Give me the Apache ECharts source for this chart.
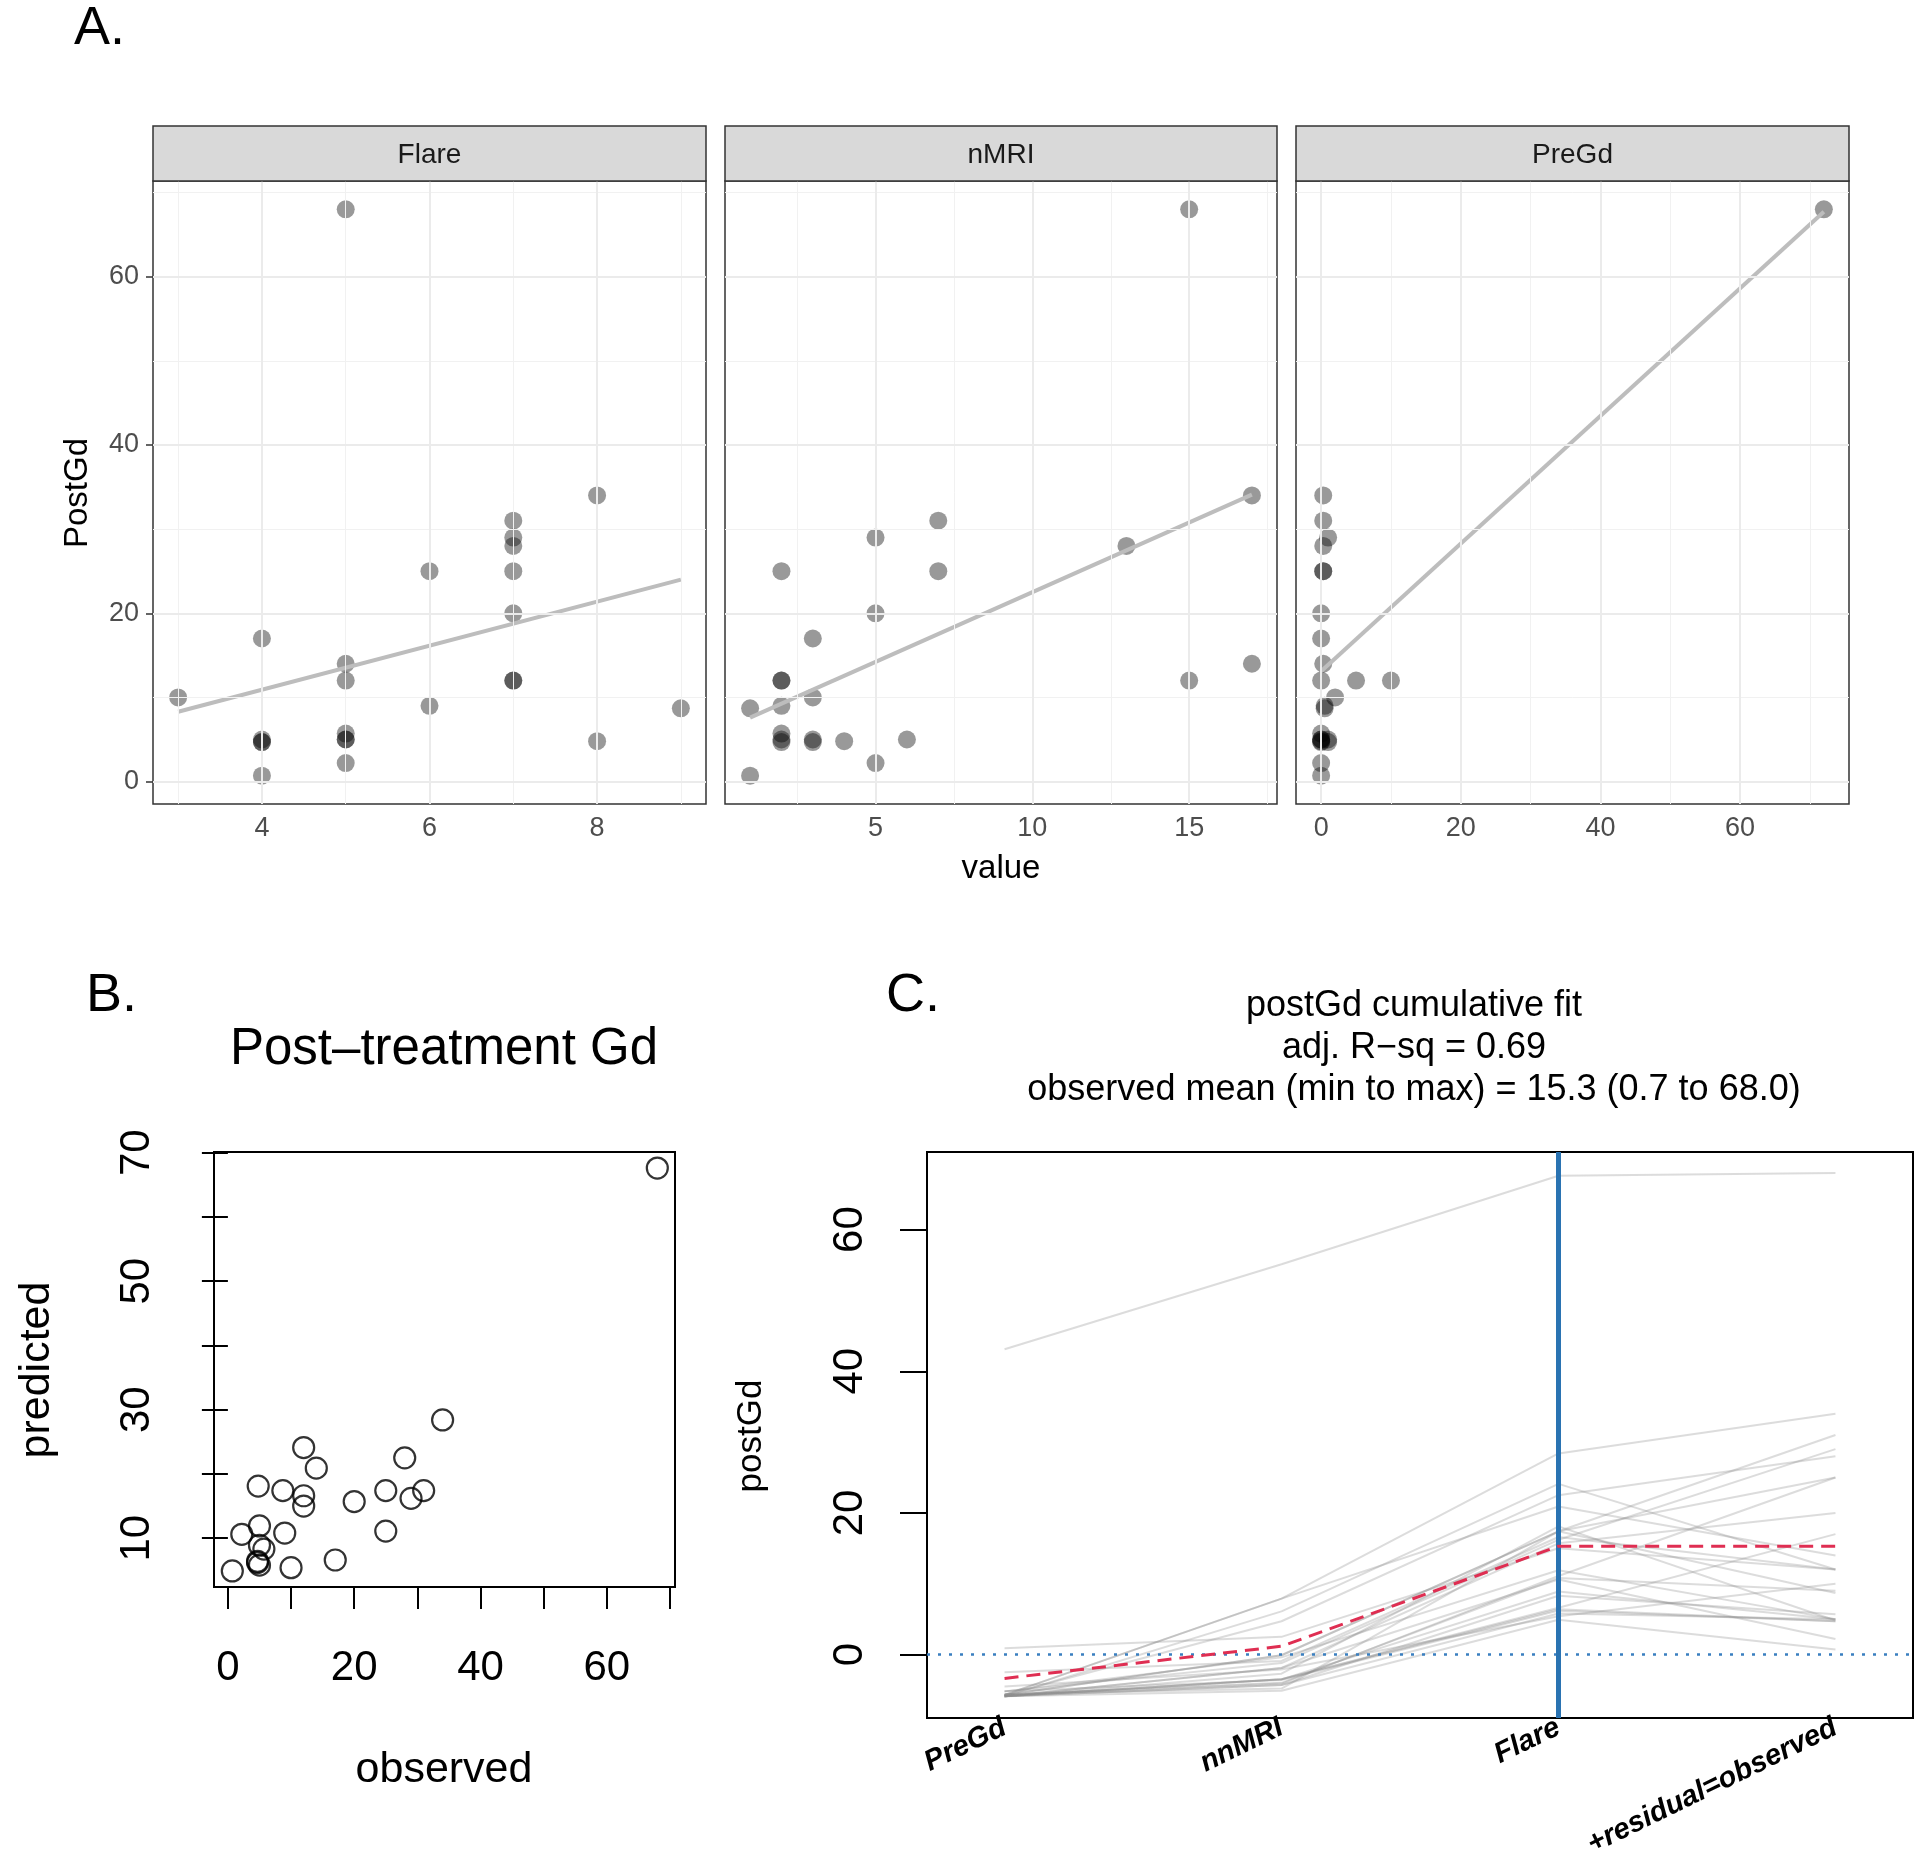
<!DOCTYPE html>
<html><head><meta charset="utf-8">
<script src="https://cdn.jsdelivr.net/npm/echarts@6/dist/echarts.min.js"></script>
<style>html,body{margin:0;padding:0;background:#fff}#c{width:1920px;height:1859px}</style>
</head><body><div id="c"></div>
<script>
// ---------- data ----------
const postGd = [68, 34, 31, 29, 28, 25, 25, 20, 17, 14, 12, 12, 12, 10, 9, 8.7, 5.7, 4.8, 5, 5, 4.7, 5, 4.7, 2.2, 0.7];
const flare  = [5, 8, 7, 7, 7, 7, 6, 7, 4, 5, 7, 7, 5, 3, 6, 9, 5, 8, 5, 5, 4, 4, 4, 5, 4];
const nMRI   = [15, 17, 7, 5, 13, 7, 2, 5, 3, 17, 15, 2, 2, 3, 2, 1, 2, 4, 6, 3, 3, 2, 2, 5, 1];
const preGd  = [72, 0.3, 0.3, 1, 0.3, 0.3, 0.3, 0, 0, 0.3, 0, 5, 10, 2, 0.5, 0.5, 0, 0, 1, 0, 0, 0, 1, 0, 0];
const fitFlare = [[3, 8.3], [9, 24.0]];
const fitNMRI  = [[1, 7.6], [17, 34.1]];
const fitPreGd = [[0, 13.1], [72, 67.7]];
const facetNames = ['Flare', 'nMRI', 'PreGd'];

const predicted = [67.6, 28.4, 17.4, 16.2, 22.5, 17.4, 11.1, 15.7, 6.6, 20.9, 24.1, 16.6, 15.0, 5.4, 10.8, 17.4, 8.3, 18.1, 11.9, 8.9, 6.4, 5.8, 6.2, 10.6, 4.9];

const cumPreGd = [43.1, -5.7, -5.7, -5.2, -5.7, -5.7, -5.7, -5.9, -5.9, -5.7, -5.9, -2.5, 0.9, -4.5, -5.6, -5.6, -5.9, -5.9, -5.2, -5.9, -5.9, -5.9, -5.2, -5.9, -5.9];
const cumNnMRI = [55.1, 7.9, -0.1, -1.2, 4.7, -0.1, -4.1, -1.9, -3.5, 7.9, 6.1, -0.9, 2.5, -2.1, -4.0, -4.8, -4.3, -2.7, -0.4, -3.5, -3.5, -4.3, -3.6, -1.9, -5.1];
const cumFlare = [67.6, 28.4, 17.4, 16.2, 22.5, 17.4, 11.1, 15.7, 6.6, 20.9, 24.1, 16.6, 15.0, 5.4, 10.8, 17.4, 8.3, 18.1, 11.9, 8.9, 6.4, 5.8, 6.2, 10.6, 4.9];
const cumObserved = [68, 34, 31, 29, 28, 25, 25, 20, 17, 14, 12, 12, 12, 10, 9, 8.7, 5.7, 4.8, 5, 5, 4.7, 5, 4.7, 2.2, 0.7];
const stepLabels = ['PreGd', 'nnMRI', 'Flare', '+residual=observed'];
const meanPath = [-3.37, 1.17, 15.3, 15.3];

// ---------- ticks ----------
const aYTicks = [0, 20, 40, 60];
const aYMinor = [10, 30, 50, 70];
const flareTicks = [4, 6, 8];
const flareMinor = [3, 5, 7, 9];
const nmriTicks = [5, 10, 15];
const nmriMinor = [2.5, 7.5, 12.5, 17.5];
const pregdTicks = [0, 20, 40, 60];
const pregdMinor = [10, 30, 50, 70];
const bXTicks = [0, 10, 20, 30, 40, 50, 60, 70];
const bXLabels = [0, 20, 40, 60];
const bYTicks = [10, 20, 30, 40, 50, 60, 70];
const bYLabels = [10, 30, 50, 70];
const cYTicks = [0, 20, 40, 60];
const cXTicks = [1, 2, 3, 4];

// ---------- layout ----------
const FONT = '"Liberation Sans", Arial, Helvetica, sans-serif';
const facetX = [[2.7, 9.3], [0.2, 17.8], [-3.6, 75.6]];
const facetMajor = [flareTicks, nmriTicks, pregdTicks];
const facetMinor = [flareMinor, nmriMinor, pregdMinor];
const facetCols = [flare, nMRI, preGd];
const facetFits = [fitFlare, fitNMRI, fitPreGd];
const facetLeft = [153, 725, 1296];
const facetWidth = [553, 552, 553];
const A_TOP = 181, A_H = 623;

const grids = [];
const xAxes = [];
const yAxes = [];
const series = [];
const graphics = [];

function gridLines(idx, xMaj, xMin, yMaj, yMin) {
  const d = [];
  xMin.forEach(v => d.push({xAxis: v, lineStyle: {color: '#f1f1f1', width: 1, type: 'solid'}}));
  yMin.forEach(v => d.push({yAxis: v, lineStyle: {color: '#f1f1f1', width: 1, type: 'solid'}}));
  xMaj.forEach(v => d.push({xAxis: v, lineStyle: {color: '#ebebeb', width: 2, type: 'solid'}}));
  yMaj.forEach(v => d.push({yAxis: v, lineStyle: {color: '#ebebeb', width: 2, type: 'solid'}}));
  return {
    type: 'line', xAxisIndex: idx, yAxisIndex: idx, data: [], z: 1, silent: true,
    markLine: {silent: true, symbol: ['none', 'none'], label: {show: false}, animation: false, data: d}
  };
}

for (let f = 0; f < 3; f++) {
  grids.push({left: facetLeft[f], top: A_TOP, width: facetWidth[f], height: A_H,
    show: true, backgroundColor: '#fff', borderColor: '#333', borderWidth: 1.5,
    containLabel: false, outerBoundsMode: 'none'});
  xAxes.push({gridIndex: f, type: 'value', min: facetX[f][0], max: facetX[f][1],
    axisLine: {show: false}, splitLine: {show: false},
    axisTick: {show: true, customValues: facetMajor[f], length: 7, lineStyle: {color: '#333', width: 1.5}},
    axisLabel: {customValues: facetMajor[f], color: '#4d4d4d', fontSize: 27, fontFamily: FONT, margin: 11}});
  yAxes.push({gridIndex: f, type: 'value', min: -2.665, max: 71.365, show: f === 0,
    axisLine: {show: false}, splitLine: {show: false},
    axisTick: {show: true, customValues: aYTicks, length: 7, lineStyle: {color: '#333', width: 1.5}},
    axisLabel: {customValues: aYTicks, color: '#4d4d4d', fontSize: 27, fontFamily: FONT, margin: 14}});
  series.push(gridLines(f, facetMajor[f], facetMinor[f], aYTicks, aYMinor));
  series.push({type: 'scatter', xAxisIndex: f, yAxisIndex: f, z: 3, symbolSize: 18,
    itemStyle: {color: 'rgba(0,0,0,0.5)'},
    data: facetCols[f].map((x, i) => [x, postGd[i]])});
  series.push({type: 'line', xAxisIndex: f, yAxisIndex: f, z: 4, symbol: 'none',
    lineStyle: {color: '#bdbdbd', width: 4}, data: facetFits[f]});
  graphics.push({type: 'rect', shape: {x: facetLeft[f], y: 126, width: facetWidth[f], height: 55},
    style: {fill: '#d9d9d9', stroke: '#333', lineWidth: 1.5}, z: 10});
  graphics.push({type: 'text', x: facetLeft[f] + facetWidth[f] / 2, y: 155, z: 11,
    style: {text: facetNames[f], fill: '#1a1a1a', font: '28px ' + FONT, textAlign: 'center', textVerticalAlign: 'middle', align: 'center', verticalAlign: 'middle'}});
}

// ---------- panel B ----------
grids.push({left: 214, top: 1152, width: 461, height: 435, show: true, backgroundColor: '#fff',
  borderColor: '#000', borderWidth: 2, containLabel: false, outerBoundsMode: 'none'});
xAxes.push({gridIndex: 3, type: 'value', min: -2.2, max: 70.8,
  axisLine: {show: false}, splitLine: {show: false},
  axisTick: {show: true, customValues: bXTicks, length: 22, lineStyle: {color: '#000', width: 2}},
  axisLabel: {customValues: bXLabels, color: '#000', fontSize: 42, fontFamily: FONT, margin: 60}});
yAxes.push({gridIndex: 3, type: 'value', min: 2.4, max: 70.1,
  axisLine: {show: false}, splitLine: {show: false},
  axisTick: {show: true, customValues: bYTicks, length: 26, lineStyle: {color: '#000', width: 2}},
  axisLabel: {customValues: bYLabels, color: '#000', fontSize: 42, fontFamily: FONT, margin: 56, rotate: 90}});
series.push({type: 'scatter', xAxisIndex: 3, yAxisIndex: 3, z: 3, symbolSize: 21,
  itemStyle: {color: 'rgba(0,0,0,0)', borderColor: '#000', borderWidth: 2.2},
  data: postGd.map((o, i) => [o, predicted[i]])});

// ---------- panel C ----------
grids.push({left: 927, top: 1152, width: 986, height: 566, show: true, backgroundColor: '#fff',
  borderColor: '#000', borderWidth: 2, containLabel: false, outerBoundsMode: 'none'});
xAxes.push({gridIndex: 4, type: 'value', min: 0.72, max: 4.28,
  axisLine: {show: false}, splitLine: {show: false}, axisTick: {show: false},
  axisLabel: {customValues: cXTicks, formatter: v => stepLabels[Math.round(v) - 1],
    color: '#000', fontSize: 29, fontFamily: FONT, fontStyle: 'italic', fontWeight: 'bold', rotate: 26, margin: 8}});
yAxes.push({gridIndex: 4, type: 'value', min: -8.96, max: 70.96,
  axisLine: {show: false}, splitLine: {show: false},
  axisTick: {show: true, customValues: cYTicks, length: 27, lineStyle: {color: '#000', width: 2}},
  axisLabel: {customValues: cYTicks, color: '#000', fontSize: 42, fontFamily: FONT, margin: 56, rotate: 90}});
for (let i = 0; i < cumObserved.length; i++) {
  series.push({type: 'line', xAxisIndex: 4, yAxisIndex: 4, z: 2, symbol: 'none', silent: true,
    lineStyle: {color: 'rgba(140,140,140,0.3)', width: 2},
    data: [[1, cumPreGd[i]], [2, cumNnMRI[i]], [3, cumFlare[i]], [4, cumObserved[i]]]});
}
series.push({type: 'line', xAxisIndex: 4, yAxisIndex: 4, data: [], z: 3, silent: true,
  markLine: {silent: true, symbol: ['none', 'none'], label: {show: false}, animation: false, data: [
    {yAxis: 0, lineStyle: {color: '#3a7fc0', width: 2.5, type: [3, 8]}},
    {xAxis: 3, lineStyle: {color: '#2a73b2', width: 5, type: 'solid'}}
  ]}});
series.push({type: 'line', xAxisIndex: 4, yAxisIndex: 4, z: 5, symbol: 'none', silent: true,
  lineStyle: {color: '#df2e52', width: 3, type: [14, 8]},
  data: meanPath.map((v, i) => [cXTicks[i], v])});

// ---------- texts ----------
function txt(x, y, s, size, opts) {
  opts = opts || {};
  return {type: 'text', x: x, y: y, z: 20, rotation: opts.rot || 0,
    style: {text: s, fill: opts.fill || '#000', font: (opts.weight || '') + ' ' + size + 'px ' + FONT,
      textAlign: opts.align || 'center', textVerticalAlign: 'middle',
      align: opts.align || 'center', verticalAlign: 'middle'}};
}
graphics.push(txt(74, 29, 'A.', 54, {align: 'left'}));
graphics.push(txt(86, 996, 'B.', 54, {align: 'left'}));
graphics.push(txt(886, 996, 'C.', 54, {align: 'left'}));
graphics.push(txt(78, 493, 'PostGd', 33, {rot: Math.PI / 2}));
graphics.push(txt(1001, 869, 'value', 33));
graphics.push(txt(444, 1050, 'Post\u2013treatment Gd', 51));
graphics.push(txt(444, 1770, 'observed', 43));
graphics.push(txt(37, 1370, 'predicted', 43, {rot: Math.PI / 2}));
graphics.push(txt(1414, 1006, 'postGd cumulative fit', 36));
graphics.push(txt(1414, 1048, 'adj. R\u2212sq = 0.69', 36));
graphics.push(txt(1414, 1090, 'observed mean (min to max) = 15.3 (0.7 to 68.0)', 36));
graphics.push(txt(751, 1436, 'postGd', 35, {rot: Math.PI / 2}));

const chart = echarts.init(document.getElementById('c'), null, {renderer: 'canvas'});
chart.setOption({
  animation: false,
  backgroundColor: '#fff',
  grid: grids,
  xAxis: xAxes,
  yAxis: yAxes,
  series: series,
  graphic: {elements: graphics}
});
</script>
</body></html>
